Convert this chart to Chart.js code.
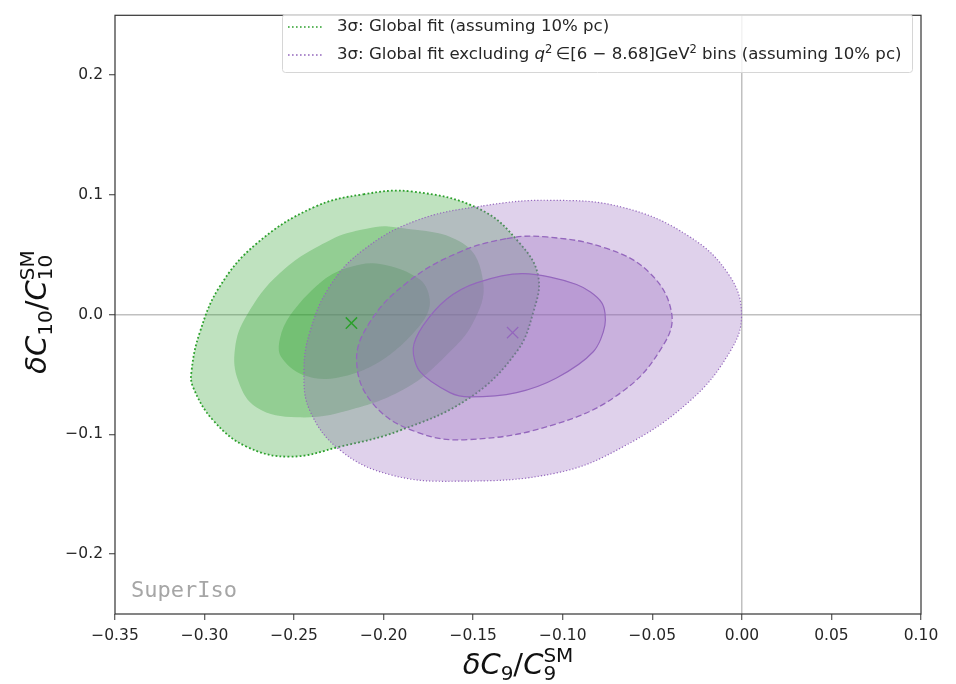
<!DOCTYPE html>
<html>
<head>
    <title>SuperIso fit - C9 / C10</title>
    <script src="https://cdn.jsdelivr.net/npm/chart.js"></script>
    <style>
        body { margin: 0; background: #fff; }
        .container { width: 956px; height: 684px; }
    </style>
</head>
<body>
    <div class="container">
        <canvas id="chart"></canvas>
    </div>

    <script>
        // axis ticks
        var xTicks = [-0.35, -0.30, -0.25, -0.20, -0.15, -0.10, -0.05, 0.00, 0.05, 0.10];
        var yTicks = [-0.2, -0.1, 0.0, 0.1, 0.2];

        // global fit contours
        var green1x = [-0.2207, -0.2021, -0.1798, -0.1742, -0.1798, -0.2021, -0.2267, -0.2453, -0.2574, -0.2579, -0.2523, -0.2356];
        var green1y = [0.0389, 0.0424, 0.0293, 0.0101, -0.0090, -0.0392, -0.0529, -0.0501, -0.0350, -0.0200, -0.0008, 0.0265];
        var green2x = [-0.2096, -0.1947, -0.1556, -0.1444, -0.1500, -0.1649, -0.1872, -0.2205, -0.2485, -0.2709, -0.2811, -0.2830, -0.2765, -0.2579, -0.2300];
        var green2y = [0.0717, 0.0731, 0.0594, 0.0265, -0.0063, -0.0337, -0.0610, -0.0802, -0.0857, -0.0775, -0.0556, -0.0282, -0.0008, 0.0348, 0.0622];
        var green3x = [-0.2114, -0.1835, -0.1463, -0.1239, -0.1137, -0.1165, -0.1258, -0.1519, -0.1909, -0.2244, -0.2523, -0.2765, -0.2951, -0.3063, -0.3073, -0.3026, -0.2914, -0.2709, -0.2393];
        var green3y = [0.1005, 0.1027, 0.0881, 0.0594, 0.0320, 0.0019, -0.0310, -0.0693, -0.0967, -0.1103, -0.1186, -0.1103, -0.0884, -0.0610, -0.0474, -0.0145, 0.0238, 0.0594, 0.0895];

        // fit excluding the q2 bins
        var purple1x = [-0.1482, -0.1221, -0.0923, -0.0783, -0.0765, -0.0830, -0.1035, -0.1258, -0.1519, -0.1630, -0.1798, -0.1835, -0.1779, -0.1649];
        var purple1y = [0.0265, 0.0342, 0.0252, 0.0101, -0.0090, -0.0310, -0.0529, -0.0651, -0.0687, -0.0651, -0.0474, -0.0282, -0.0090, 0.0129];
        var purple2x = [-0.1314, -0.1090, -0.0755, -0.0514, -0.0393, -0.0439, -0.0663, -0.1035, -0.1519, -0.1817, -0.2058, -0.2151, -0.2077, -0.1872, -0.1593];
        var purple2y = [0.0635, 0.0649, 0.0553, 0.0348, 0.0019, -0.0255, -0.0638, -0.0912, -0.1043, -0.0980, -0.0747, -0.0392, -0.0063, 0.0265, 0.0512];
        var purple3x = [-0.1444, -0.1072, -0.0663, -0.0290, -0.0067, -0.0002, -0.0067, -0.0290, -0.0663, -0.1035, -0.1593, -0.1965, -0.2244, -0.2412, -0.2445, -0.2412, -0.2300, -0.2114, -0.1817];
        var purple3y = [0.0909, 0.0955, 0.0895, 0.0649, 0.0320, -0.0008, -0.0310, -0.0720, -0.1103, -0.1322, -0.1391, -0.1336, -0.1131, -0.0802, -0.0474, -0.0145, 0.0238, 0.0540, 0.0786];

        // best fit points
        var bestGreen = [-0.218, -0.007];
        var bestPurple = [-0.128, -0.015];

        var legendLabels = ['3σ: Global fit (assuming 10% pc)', '3σ: Global fit excluding q²∈[6 − 8.68]GeV² bins (assuming 10% pc)'];

        var GREEN = '#2ca02c';
        var PURPLE = '#9467bd';

        function pts(xs, ys) {
            return xs.map(function(x, i) { return { x: x, y: ys[i] }; });
        }

        function contour(xs, ys, fillCol, lineCol, width, dash, tension) {
            return {
                data: pts(xs, ys),
                closed: true,
                showLine: true,
                fill: 'shape',
                backgroundColor: fillCol,
                borderColor: lineCol,
                borderWidth: width,
                borderDash: dash,
                tension: tension,
                pointRadius: 0,
                pointHoverRadius: 0
            };
        }

        // make contour lines closed loops (smooth through the first point)
        var closeLoops = {
            id: 'closeLoops',
            afterDatasetsUpdate: function(chart) {
                chart.data.datasets.forEach(function(ds, i) {
                    if (!ds.closed) return;
                    var line = chart.getDatasetMeta(i).dataset;
                    line._loop = true;
                    line._fullLoop = true;
                    line._segments = undefined;
                    line._pointsUpdated = false;
                    line._path = undefined;
                });
            }
        };

        function richDraw(ctx, parts, x, y, measureOnly) {
            var cx = x, hold = 0;
            parts.forEach(function(p) {
                ctx.font = p.font;
                var pw = ctx.measureText(p.text).width;
                if (!measureOnly) ctx.fillText(p.text, cx, y + (p.dy || 0));
                if (p.stack) { hold = pw; } else { cx += Math.max(pw, hold); hold = 0; }
            });
            return cx - x;
        }

        var MI = 'italic 29px "DejaVu Sans"', MR = '29px "DejaVu Sans"', MS = '20px "DejaVu Sans"';
        var xTitle = [
            { text: 'δC', font: MI }, { text: '9', font: MS, dy: 6 }, { text: '/', font: MR },
            { text: 'C', font: MI }, { text: 'SM', font: MS, dy: -12, stack: true }, { text: '9', font: MS, dy: 6 }
        ];
        var yTitle = [
            { text: 'δC', font: MI }, { text: '10', font: MS, dy: 6 }, { text: '/', font: MR },
            { text: 'C', font: MI }, { text: 'SM', font: MS, dy: -12, stack: true }, { text: '10', font: MS, dy: 6 }
        ];

        var decor = {
            id: 'decor',
            afterDraw: function(chart) {
                var ctx = chart.ctx, a = chart.chartArea;
                ctx.save();
                // frame
                ctx.strokeStyle = '#333';
                ctx.lineWidth = 1.2;
                ctx.strokeRect(a.left, a.top, a.right - a.left, a.bottom - a.top);

                // watermark
                ctx.fillStyle = '#a6a6a6';
                ctx.font = '22px "DejaVu Sans Mono"';
                ctx.textBaseline = 'alphabetic';
                ctx.fillText('SuperIso', 131, 597);

                // axis titles
                ctx.fillStyle = '#111';
                var w = richDraw(ctx, xTitle, 0, 0, true);
                richDraw(ctx, xTitle, (a.left + a.right) / 2 - w / 2, 674);
                ctx.translate(46, 312);
                ctx.rotate(-Math.PI / 2);
                w = richDraw(ctx, yTitle, 0, 0, true);
                richDraw(ctx, yTitle, -w / 2, 0);
                ctx.restore();

                // legend
                ctx.save();
                var bx = 282.5, by = 14.5, bw = 630, bh = 58;
                ctx.beginPath();
                ctx.roundRect(bx, by, bw, bh, 3);
                ctx.fillStyle = 'rgba(255,255,255,0.8)';
                ctx.fill();
                ctx.strokeStyle = '#d6d6d6';
                ctx.lineWidth = 1;
                ctx.stroke();

                var rows = [27, 55];
                var cols = [GREEN, PURPLE];
                ctx.lineWidth = 1.6;
                ctx.setLineDash([1.6, 2.4]);
                rows.forEach(function(ry, i) {
                    ctx.strokeStyle = cols[i];
                    ctx.beginPath();
                    ctx.moveTo(288, ry);
                    ctx.lineTo(323, ry);
                    ctx.stroke();
                });
                ctx.setLineDash([]);
                ctx.fillStyle = '#262626';
                ctx.textBaseline = 'middle';
                var LF = '16.6px "DejaVu Sans"', LI = 'italic 16.6px "DejaVu Sans"', LS = '11.5px "DejaVu Sans"';
                richDraw(ctx, [{ text: legendLabels[0], font: LF }], 337, rows[0]);
                richDraw(ctx, [
                    { text: '3σ: Global fit excluding ', font: LF },
                    { text: 'q', font: LI }, { text: '2', font: LS, dy: -5 },
                    { text: '\u2009∈[6 − 8.68]GeV', font: LF }, { text: '2', font: LS, dy: -5 },
                    { text: ' bins (assuming 10% pc)', font: LF }
                ], 337, rows[1]);
                ctx.restore();
            }
        };

        function zeroLine(c) {
            return c.tick && c.tick.value === 0 ? '#c0c0c0' : 'rgba(0,0,0,0)';
        }

        var tickFont = { family: 'DejaVu Sans', size: 15.5 };

        var ctx = document.getElementById('chart').getContext('2d');
        var chart = new Chart(ctx, {
            type: 'scatter',
            data: {
                datasets: [
                    {
                        data: [{ x: bestGreen[0], y: bestGreen[1] }],
                        pointStyle: 'crossRot', pointRadius: 8, borderColor: GREEN, borderWidth: 1.5
                    },
                    {
                        data: [{ x: bestPurple[0], y: bestPurple[1] }],
                        pointStyle: 'crossRot', pointRadius: 8, borderColor: PURPLE, borderWidth: 1.2
                    },
                    contour(purple1x, purple1y, 'rgba(148,103,189,0.3)', PURPLE, 1.2, [], 0.3),
                    contour(purple2x, purple2y, 'rgba(148,103,189,0.3)', PURPLE, 1.3, [6, 3], 0.4),
                    contour(purple3x, purple3y, 'rgba(148,103,189,0.3)', PURPLE, 1.2, [1.2, 2], 0.4),
                    contour(green3x, green3y, 'rgba(44,160,44,0.3)', GREEN, 1.8, [1.8, 2.2], 0.4),
                    contour(green2x, green2y, 'rgba(44,160,44,0.3)', 'rgba(0,0,0,0)', 0, [], 0.4),
                    contour(green1x, green1y, 'rgba(44,160,44,0.3)', 'rgba(0,0,0,0)', 0, [], 0.35)
                ]
            },
            options: {
                responsive: true,
                maintainAspectRatio: false,
                animation: false,
                layout: { padding: { left: 0, right: 35, top: 5, bottom: 0 } },
                plugins: {
                    legend: { display: false },
                    tooltip: { enabled: false }
                },
                scales: {
                    x: {
                        type: 'linear',
                        min: -0.35,
                        max: 0.10,
                        afterBuildTicks: function(s) { s.ticks = xTicks.map(function(v) { return { value: v }; }); },
                        afterFit: function(s) { s.height = 70; },
                        ticks: {
                            font: tickFont,
                            color: '#262626',
                            padding: 7,
                            maxRotation: 0,
                            autoSkip: false,
                            callback: function(v) { return (v < 0 ? '−' : '') + Math.abs(v).toFixed(2); }
                        },
                        grid: { color: zeroLine, lineWidth: 1.5, tickColor: '#333', tickLength: 6, tickWidth: 1 },
                        border: { display: false }
                    },
                    y: {
                        type: 'linear',
                        min: -0.25,
                        max: 0.25,
                        afterBuildTicks: function(s) { s.ticks = yTicks.map(function(v) { return { value: v }; }); },
                        afterFit: function(s) { s.width = 115; },
                        ticks: {
                            font: tickFont,
                            color: '#262626',
                            padding: 6,
                            autoSkip: false,
                            callback: function(v) { return (v < 0 ? '−' : '') + Math.abs(v).toFixed(1); }
                        },
                        grid: { color: zeroLine, lineWidth: 1.5, tickColor: '#333', tickLength: 6, tickWidth: 1 },
                        border: { display: false }
                    }
                }
            },
            plugins: [closeLoops, decor]
        });
    </script>
</body>
</html>
